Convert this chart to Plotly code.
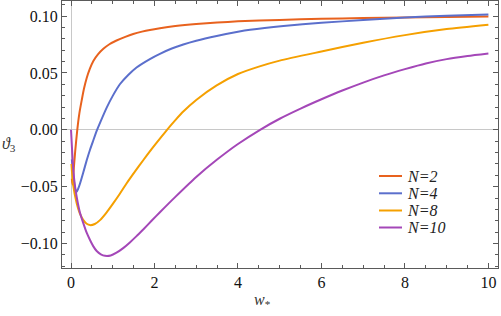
import plotly.graph_objects as go

# ---- data ----
x_n2 = [0.02, 0.035, 0.06, 0.1, 0.15, 0.2, 0.256, 0.31, 0.376, 0.45, 0.535, 0.65, 0.775, 0.92, 1.09, 1.3, 1.49, 1.7, 1.89, 2.13, 2.5, 3.0, 3.5, 4.0, 5.0, 6.0, 7.0, 8.0, 9.0, 10.0]
y_n2 = [-0.043, -0.048, -0.037, -0.019, 0.0, 0.0145, 0.0259, 0.036, 0.0455, 0.0535, 0.0605, 0.0665, 0.0712, 0.0752, 0.0785, 0.0817, 0.0842, 0.0863, 0.0878, 0.0893, 0.0912, 0.0930, 0.0943, 0.0953, 0.0966, 0.0975, 0.0982, 0.0988, 0.0992, 0.0996]

x_n4 = [0.02, 0.06, 0.1, 0.136, 0.17, 0.216, 0.29, 0.376, 0.455, 0.535, 0.615, 0.7, 0.855, 1.0, 1.17, 1.37, 1.57, 1.89, 2.13, 2.4, 2.69, 3.0, 3.49, 4.0, 4.29, 5.09, 6.0, 7.0, 8.0, 9.0, 10.0]
y_n4 = [-0.026, -0.042, -0.052, -0.0546, -0.052, -0.0472, -0.038, -0.0268, -0.0175, -0.0092, -0.001, 0.0065, 0.0195, 0.0298, 0.0400, 0.0482, 0.0548, 0.0622, 0.0668, 0.0712, 0.0750, 0.0783, 0.0825, 0.0862, 0.0879, 0.0912, 0.0940, 0.0965, 0.0987, 0.1002, 0.1013]

x_n8 = [0.01, 0.05, 0.136, 0.21, 0.296, 0.375, 0.455, 0.57, 0.695, 0.85, 1.01, 1.17, 1.33, 1.53, 1.73, 1.93, 2.13, 2.3, 2.5, 2.69, 3.0, 3.49, 4.0, 4.5, 5.0, 6.0, 7.0, 8.0, 9.0, 10.0]
y_n8 = [-0.03, -0.048, -0.0647, -0.0735, -0.0794, -0.0826, -0.0838, -0.0828, -0.0794, -0.0728, -0.0647, -0.0562, -0.0472, -0.0368, -0.0268, -0.0170, -0.0077, 0.0, 0.0085, 0.0160, 0.0262, 0.0390, 0.0490, 0.0555, 0.0608, 0.0688, 0.0765, 0.0832, 0.0885, 0.0923]

x_n10 = [0.0, 0.03, 0.056, 0.09, 0.136, 0.21, 0.296, 0.375, 0.455, 0.535, 0.615, 0.715, 0.815, 0.95, 1.09, 1.25, 1.41, 1.57, 1.73, 1.93, 2.13, 2.5, 3.0, 3.5, 4.0, 4.53, 5.0, 5.5, 6.0, 6.5, 7.0, 7.5, 8.0, 8.5, 9.0, 9.5, 10.0]
y_n10 = [0.0, -0.021, -0.0355, -0.048, -0.059, -0.0722, -0.0823, -0.0905, -0.0969, -0.1025, -0.1066, -0.1095, -0.1108, -0.1105, -0.1080, -0.1040, -0.0990, -0.0935, -0.0876, -0.0800, -0.0725, -0.0590, -0.0415, -0.0262, -0.0125, 0.0, 0.0097, 0.0186, 0.0268, 0.0345, 0.0415, 0.0478, 0.0533, 0.0583, 0.0621, 0.0648, 0.0670]

names = ["N=2", "N=4", "N=8", "N=10"]
colors = ["#E8621E", "#5B6FCC", "#F5A000", "#A447B8"]
xs_all = [x_n2, x_n4, x_n8, x_n10]
ys_all = [y_n2, y_n4, y_n8, y_n10]

x_ticks = [0, 2, 4, 6, 8, 10]
y_ticks = [-0.10, -0.05, 0.0, 0.05, 0.10]

SERIF = "Liberation Serif, Times New Roman, serif"

fig = go.Figure()
for name, xs, ys, col in zip(names, xs_all, ys_all, colors):
    fig.add_trace(go.Scatter(x=xs, y=ys, mode="lines", name=name, showlegend=False,
                             hoverinfo="skip",
                             line=dict(color=col, width=2, shape="spline", smoothing=0.6)))

tickfont = dict(family=SERIF, size=16, color="#111111")
axis_common = dict(showgrid=False, zeroline=True, zerolinecolor="#c8c8c8", zerolinewidth=1,
                   showline=True, linecolor="#5a5a5a", linewidth=1, mirror="ticks",
                   ticks="inside", ticklen=5, tickcolor="#5a5a5a", tickfont=tickfont,
                   ticklabeloverflow="allow")

fig.update_xaxes(range=[-0.216, 10.23], tickvals=x_ticks, **axis_common,
                 minor=dict(dtick=0.5, ticklen=3, tickcolor="#5a5a5a", ticks="inside"))
fig.update_yaxes(range=[-0.1215, 0.1132], tickvals=y_ticks, tickformat=".2f", **axis_common,
                 minor=dict(dtick=0.01, ticklen=3, tickcolor="#5a5a5a", ticks="inside"))

# axis labels (Mathematica-style frame labels)
fig.add_annotation(text="<i>ϑ</i><sub>3</sub>", x=(9 - 62) / 436, y=(268 - 144) / 267,
                   xref="paper", yref="paper", showarrow=False, xanchor="center", yanchor="middle",
                   font=dict(family=SERIF, size=16, color="#333333"))
fig.add_annotation(text="<i>w</i><sub>*</sub>", x=(262 - 62) / 436, y=-(300 - 268) / 267,
                   xref="paper", yref="paper", showarrow=False, xanchor="center", yanchor="middle",
                   font=dict(family=SERIF, size=16, color="#333333"))

# legend (drawn in paper coordinates)
leg_y_px = [176, 193.3, 210.5, 227.5]
for name, col, ypx in zip(names, colors, leg_y_px):
    yp = (268 - ypx) / 267
    fig.add_shape(type="line", xref="paper", yref="paper",
                  x0=(379 - 62) / 436, x1=(402 - 62) / 436, y0=yp, y1=yp,
                  line=dict(color=col, width=2))
    fig.add_annotation(text="<i>" + name + "</i>", x=(405 - 62) / 436, y=yp,
                       xref="paper", yref="paper", showarrow=False, xanchor="left", yanchor="middle",
                       font=dict(family=SERIF, size=16, color="#222222"))

fig.update_layout(
    width=501, height=316,
    margin=dict(l=62, r=3, t=1, b=48),
    plot_bgcolor="white", paper_bgcolor="white",
    showlegend=False,
)

fig.write_html("out.html", config={"displayModeBar": False},
               post_script="document.body.style.margin='0';")
